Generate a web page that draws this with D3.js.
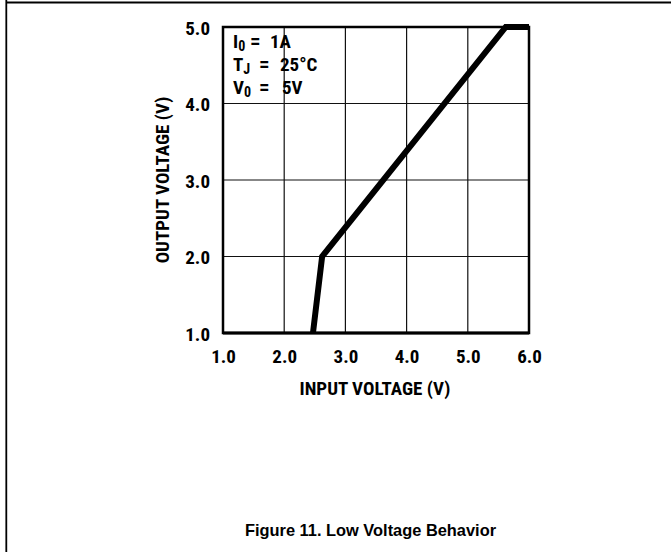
<!DOCTYPE html>
<html><head><meta charset="utf-8">
<script src="https://cdn.jsdelivr.net/npm/d3@7"></script>
<style>
html,body{margin:0;padding:0;background:#fff;}
.cond{font-family:"Liberation Sans Narrow","Roboto Condensed","DejaVu Sans Condensed","Liberation Sans",Arial,sans-serif;font-weight:bold;font-stretch:condensed;}
</style></head>
<body>
<svg id="c" width="671" height="552"></svg>
<script>
const xTicks = [1.0, 2.0, 3.0, 4.0, 5.0, 6.0];
const yTicks = [1.0, 2.0, 3.0, 4.0, 5.0];
const tickLabels = ["1.0", "2.0", "3.0", "4.0", "5.0", "6.0"];
const inputVoltage = [2.47, 2.62, 5.62, 6.0];
const outputVoltage = [1.0, 2.0, 5.0, 5.0];
const xTitle = "INPUT VOLTAGE (V)";
const yTitle = "OUTPUT VOLTAGE (V)";
const caption = "Figure 11. Low Voltage Behavior";
const legendSymbols = ["I", "T", "V"];
const legendSubs = ["0", "J", "0"];
const legendValues = ["1A", "25°C", "5V"];

const svg = d3.select("#c");
const pL = 223, pR = 529, pT = 27, pB = 333;
const x = d3.scaleLinear().domain([1, 6]).range([pL, pR]);
const y = d3.scaleLinear().domain([1, 5]).range([pB, pT]);

// page border
svg.append("line").attr("x1", 6).attr("x2", 671).attr("y1", 2.5).attr("y2", 2.5).attr("stroke", "#000").attr("stroke-width", 1.8);
svg.append("line").attr("x1", 6.3).attr("x2", 6.3).attr("y1", 0).attr("y2", 552).attr("stroke", "#000").attr("stroke-width", 1.8);

// grid
const g = svg.append("g");
g.selectAll(".vg").data(xTicks.slice(1, -1)).join("line")
  .attr("x1", d => x(d)).attr("x2", d => x(d)).attr("y1", pT).attr("y2", pB)
  .attr("stroke", "#111").attr("stroke-width", 1.2);
g.selectAll(".hg").data(yTicks.slice(1, -1)).join("line")
  .attr("x1", pL).attr("x2", pR).attr("y1", d => y(d)).attr("y2", d => y(d))
  .attr("stroke", "#111").attr("stroke-width", 1.2);

// frame
g.append("rect").attr("x", pL).attr("y", pT).attr("width", pR - pL).attr("height", pB - pT)
  .attr("fill", "none").attr("stroke", "#000").attr("stroke-width", 2.5);
g.append("line").attr("x1", pL).attr("x2", pR).attr("y1", pB).attr("y2", pB)
  .attr("stroke", "#000").attr("stroke-width", 3.2);

// axes labels via d3 axes
const xAxis = d3.axisBottom(x).tickValues(xTicks).tickFormat((d, i) => tickLabels[i]).tickSize(0).tickPadding(16.5);
const xa = svg.append("g").attr("transform", `translate(0,${pB})`).call(xAxis);
xa.select(".domain").remove();
xa.attr("font-family", null).attr("font-size", null);
xa.selectAll("text").attr("class", "cond").attr("font-size", 19).attr("fill", "#000");

const yAxis = d3.axisLeft(y).tickValues(yTicks).tickFormat(d => d.toFixed(1)).tickSize(0).tickPadding(13);
const ya = svg.append("g").attr("transform", `translate(${pL},1)`).call(yAxis);
ya.select(".domain").remove();
ya.attr("font-family", null).attr("font-size", null);
ya.selectAll("text").attr("class", "cond").attr("font-size", 19).attr("fill", "#000");

// titles
svg.append("text").attr("class", "cond").attr("x", 375).attr("y", 395)
  .attr("text-anchor", "middle").attr("font-size", 19).text(xTitle);
svg.append("text").attr("class", "cond").attr("transform", `translate(169,${(pT + pB) / 2}) rotate(-90)`)
  .attr("text-anchor", "middle").attr("font-size", 19).text(yTitle);

// curve
const line = d3.line().x(d => x(d[0])).y(d => y(d[1]));
svg.append("path").datum(inputVoltage.map((v, i) => [v, outputVoltage[i]]))
  .attr("d", line).attr("fill", "none").attr("stroke", "#000").attr("stroke-width", 6)
  .attr("stroke-linejoin", "miter").attr("stroke-linecap", "butt");

// legend
const eqX = [250, 259, 259], valX = [270, 280, 282];
legendSymbols.forEach((s, i) => {
  const by = 47.5 + i * 23;
  const t = svg.append("text").attr("class", "cond").attr("x", 233).attr("y", by).attr("font-size", 19);
  t.append("tspan").text(s);
  t.append("tspan").attr("dy", 3.5).attr("font-size", 14).text(legendSubs[i]);
  t.append("tspan").attr("x", eqX[i]).attr("y", by).attr("font-size", 21).text("=");
  t.append("tspan").attr("x", valX[i]).attr("y", by).text(legendValues[i]);
});

// caption
svg.append("text").attr("x", 370.5).attr("y", 536).attr("text-anchor", "middle")
  .attr("font-family", "Arial, 'Liberation Sans', sans-serif").attr("font-weight", "bold").attr("font-size", 16.4)
  .text(caption);
</script>
</body></html>
